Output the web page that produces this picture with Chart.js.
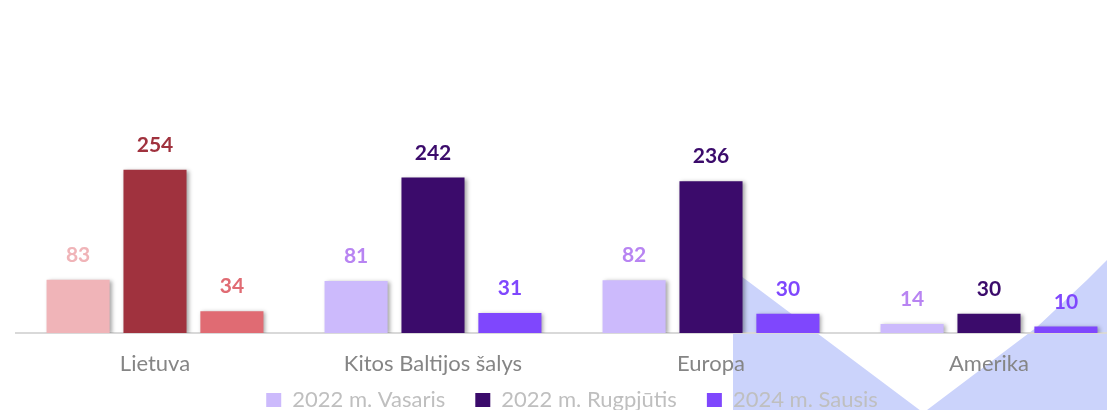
<!DOCTYPE html>
<html>
<head>
<meta charset="utf-8">
<script src="https://cdn.jsdelivr.net/npm/chart.js@4"></script>
<style>
  html, body { margin: 0; padding: 0; background: #fff; overflow: hidden; }
  canvas { display: block; }
</style>
</head>
<body>
<canvas id="chart" width="1144" height="440"></canvas>
<script>
const categories = ['Lietuva', 'Kitos Baltijos šalys', 'Europa', 'Amerika'];
const seriesNames = ['2022 m. Vasaris', '2022 m. Rugpjūtis', '2024 m. Sausis'];
const vasaris = [83, 81, 82, 14];
const rugpjutis = [254, 242, 236, 30];
const sausis = [34, 31, 30, 10];

const seriesColors = ['#ccbafc', '#3b0b6b', '#7f47fd'];
const labelColors = ['#b884f2', '#3b0b6b', '#7f47fd'];
const lietuvaColors = ['#f0b4b8', '#a0323e', '#e06b73'];

const FONT = 'Lato, "Open Sans", sans-serif';

// first category is drawn in red tones
const colorsFor = (i) => categories.map((c, j) => (j === 0 ? lietuvaColors[i] : seriesColors[i]));

const watermark = {
  id: 'watermark',
  beforeDraw(chart) {
    const ctx = chart.ctx;
    ctx.save();
    ctx.fillStyle = 'rgb(203,211,251)';
    ctx.beginPath();
    ctx.moveTo(733, 270);
    ctx.lineTo(973, 450);
    ctx.lineTo(733, 450);
    ctx.closePath();
    ctx.fill();
    ctx.beginPath();
    ctx.moveTo(890, 450);
    ctx.lineTo(927, 410);
    ctx.lineTo(1037, 327);
    ctx.lineTo(1087, 280);
    ctx.lineTo(1107, 260);
    ctx.lineTo(1144, 225);
    ctx.lineTo(1144, 450);
    ctx.closePath();
    ctx.fill();
    ctx.restore();
  },
};

const barShadow = {
  id: 'barShadow',
  beforeDatasetsDraw(chart) {
    const ctx = chart.ctx;
    ctx.save();
    ctx.shadowColor = 'rgba(0,0,0,0.35)';
    ctx.shadowBlur = 4;
    ctx.shadowOffsetX = 2;
    ctx.shadowOffsetY = 1;
  },
  afterDatasetsDraw(chart) {
    chart.ctx.restore();
  },
};

const valueLabels = {
  id: 'valueLabels',
  afterDatasetsDraw(chart) {
    const ctx = chart.ctx;
    ctx.save();
    ctx.font = 'bold 21px ' + FONT;
    ctx.textAlign = 'center';
    ctx.textBaseline = 'alphabetic';
    chart.data.datasets.forEach((ds, i) => {
      chart.getDatasetMeta(i).data.forEach((bar, j) => {
        ctx.fillStyle = j === 0 ? lietuvaColors[i] : labelColors[i];
        ctx.fillText(ds.data[j], bar.x, bar.y - 18);
      });
    });
    ctx.restore();
  },
};

// legend sits closer to the axis labels than its padding would allow
const legendUp = {
  id: 'legendUp',
  afterLayout(chart) {
    chart.legend.top -= 19;
    chart.legend.bottom -= 19;
  },
};

new Chart(document.getElementById('chart'), {
  type: 'bar',
  data: {
    labels: categories,
    datasets: [
      { label: seriesNames[0], data: vasaris, backgroundColor: colorsFor(0) },
      { label: seriesNames[1], data: rugpjutis, backgroundColor: colorsFor(1) },
      { label: seriesNames[2], data: sausis, backgroundColor: colorsFor(2) },
    ],
  },
  options: {
    responsive: false,
    animation: false,
    devicePixelRatio: 1,
    categoryPercentage: 0.83,
    barPercentage: 0.82,
    layout: { padding: { top: 76, left: 16, right: 16, bottom: 0 } },
    scales: {
      x: {
        grid: { display: false, drawTicks: false },
        border: { display: true, color: '#d9d9d9', width: 2 },
        ticks: { color: '#858585', font: { family: FONT, size: 22 }, padding: 18 },
        afterFit: (scale) => { scale.height = 45; },
      },
      y: { display: false, min: 0, max: 400 },
    },
    plugins: {
      legend: {
        position: 'bottom',
        labels: {
          color: '#bfbfbf',
          font: { family: FONT, size: 22 },
          boxWidth: 15,
          boxHeight: 14,
          padding: 30,
          generateLabels: (chart) => chart.data.datasets.map((ds, i) => ({
            text: ds.label,
            fillStyle: seriesColors[i],
            strokeStyle: seriesColors[i],
            lineWidth: 0,
            fontColor: '#bfbfbf',
            datasetIndex: i,
          })),
        },
      },
      tooltip: { enabled: false },
    },
  },
  plugins: [watermark, barShadow, valueLabels, legendUp],
});
</script>
</body>
</html>
